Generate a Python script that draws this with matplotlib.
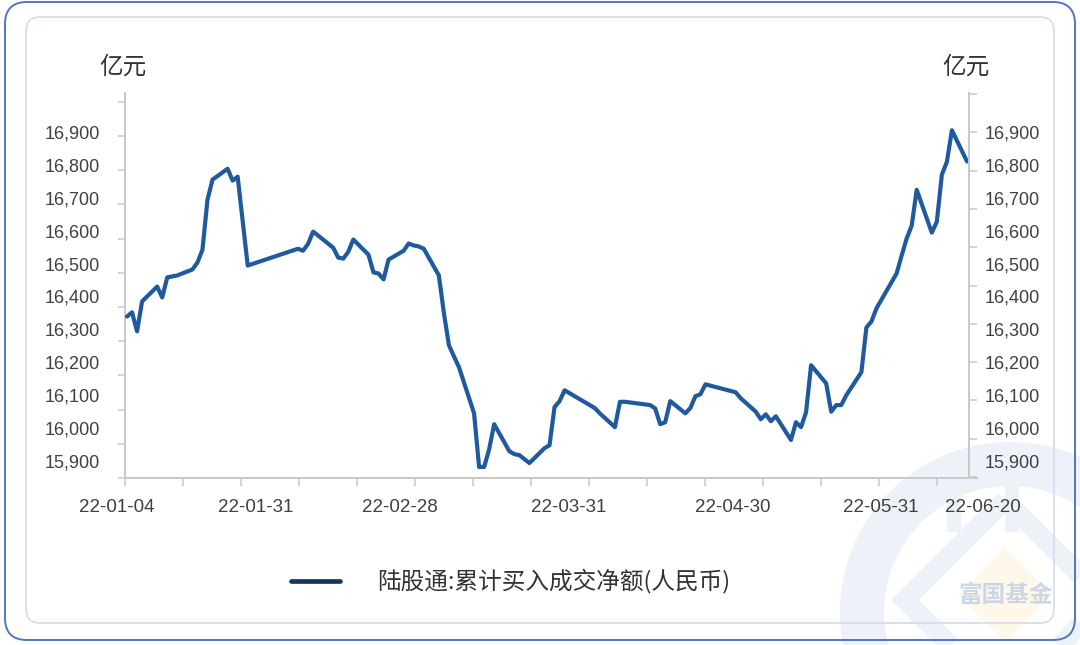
import matplotlib
matplotlib.use('Agg')
import matplotlib.pyplot as plt
import matplotlib.dates as mdates
import matplotlib.transforms as mtrans
from matplotlib.patches import FancyBboxPatch, Wedge, Polygon, Rectangle
import numpy as np
import pandas as pd

# ---------------- data ----------------
dates = [
    '2022-01-04', '2022-01-05', '2022-01-06', '2022-01-07', '2022-01-10', '2022-01-11',
    '2022-01-12', '2022-01-13', '2022-01-14', '2022-01-17', '2022-01-18', '2022-01-19',
    '2022-01-20', '2022-01-21', '2022-01-24', '2022-01-25', '2022-01-26', '2022-01-28',
    '2022-02-07', '2022-02-08', '2022-02-09', '2022-02-10', '2022-02-11', '2022-02-14',
    '2022-02-15', '2022-02-16', '2022-02-17', '2022-02-18', '2022-02-21', '2022-02-22',
    '2022-02-23', '2022-02-24', '2022-02-25', '2022-02-28',
    '2022-03-01', '2022-03-02', '2022-03-03', '2022-03-04', '2022-03-07', '2022-03-08',
    '2022-03-09', '2022-03-10', '2022-03-11', '2022-03-14', '2022-03-15', '2022-03-16',
    '2022-03-17', '2022-03-18', '2022-03-21', '2022-03-22', '2022-03-23', '2022-03-24',
    '2022-03-25', '2022-03-28', '2022-03-29', '2022-03-30', '2022-03-31',
    '2022-04-01', '2022-04-06', '2022-04-07', '2022-04-08', '2022-04-11', '2022-04-12',
    '2022-04-13', '2022-04-14', '2022-04-15', '2022-04-18', '2022-04-19', '2022-04-20',
    '2022-04-21', '2022-04-22', '2022-04-25', '2022-04-26', '2022-04-27', '2022-04-28',
    '2022-04-29',
    '2022-05-05', '2022-05-06', '2022-05-09', '2022-05-10', '2022-05-11', '2022-05-12',
    '2022-05-13', '2022-05-16', '2022-05-17', '2022-05-18', '2022-05-19', '2022-05-20',
    '2022-05-23', '2022-05-24', '2022-05-25', '2022-05-26', '2022-05-27', '2022-05-30',
    '2022-05-31',
    '2022-06-01', '2022-06-02', '2022-06-06', '2022-06-07', '2022-06-08', '2022-06-09',
    '2022-06-10', '2022-06-13', '2022-06-14', '2022-06-15', '2022-06-16', '2022-06-17',
    '2022-06-20',
]
values = [
    16339, 16352, 16294, 16385, 16430, 16397,
    16458, 16461, 16464, 16482, 16503, 16542,
    16694, 16755, 16788, 16752, 16764, 16494,
    16545, 16539, 16560, 16597, 16585, 16548,
    16518, 16515, 16536, 16573, 16527, 16473,
    16470, 16452, 16512, 16539,
    16561, 16555, 16552, 16545, 16464, 16350,
    16252, 16218, 16185, 16045, 15882, 15882,
    15936, 16012, 15930, 15921, 15918, 15906,
    15894, 15939, 15948, 16064, 16082,
    16115, 16070, 16061, 16045, 16003, 16080,
    16080, 16078, 16076, 16070, 16060, 16012,
    16018, 16082, 16045, 16061, 16097, 16103,
    16133,
    16109, 16091, 16050, 16027, 16042, 16021,
    16036, 15964, 16018, 16003, 16048, 16191,
    16136, 16050, 16070, 16070, 16100, 16170,
    16306,
    16324, 16364, 16470, 16524, 16576, 16615,
    16724, 16594, 16627, 16770, 16809, 16905,
    16810,
]
y_tick_values = [15900, 16000, 16100, 16200, 16300, 16400, 16500, 16600, 16700, 16800, 16900]
x_label_dates = ['2022-01-04', '2022-01-31', '2022-02-28', '2022-03-31',
                 '2022-04-30', '2022-05-31', '2022-06-20']
x_label_texts = ['22-01-04', '22-01-31', '22-02-28', '22-03-31',
                 '22-04-30', '22-05-31', '22-06-20']
unit_label = '亿元'
series_name = '陆股通:累计买入成交净额(人民币)'
watermark_text = '富国基金'

# ---------------- style / layout ----------------
plt.rcParams['font.family'] = ['Liberation Sans', 'Noto Sans CJK SC', 'DejaVu Sans']
CJK = ['Noto Sans CJK SC', 'DejaVu Sans']
LINE_COLOR = '#1f5a9e'
LEGEND_COLOR = '#17365d'
AXIS_COLOR = '#c8c8c8'
TEXT_COLOR = '#404040'
WM_BLUE = '#edf1f8'

W, H = 1080, 645
fig = plt.figure(figsize=(W / 100, H / 100), dpi=100)

# background layer in pixel coordinates (y downwards)
bg = fig.add_axes([0, 0, 1, 1], zorder=0)
bg.set_xlim(0, W)
bg.set_ylim(H, 0)
bg.axis('off')

# watermark logo (faint)
bg.add_patch(Wedge((1010, 612), 170, 0, 360, width=44, facecolor=WM_BLUE, edgecolor='none'))
bg.add_patch(Polygon([(1005, 500), (1105, 600), (1005, 700), (905, 600)], closed=True,
                     facecolor='none', edgecolor=WM_BLUE, linewidth=14))
bg.add_patch(Polygon([(1005, 548), (1052, 595), (1005, 642), (958, 595)], closed=True,
                     facecolor='#fdf8ea', edgecolor='none'))
bg.add_patch(Rectangle((947, 462), 14, 70, facecolor=WM_BLUE, edgecolor='none'))
bg.add_patch(Rectangle((1005, 462), 14, 70, facecolor=WM_BLUE, edgecolor='none'))
bg.text(1006, 595, watermark_text, ha='center', va='center', fontsize=17, fontweight='bold',
        color='#cdd6e7', family=CJK)

# frames
bg.add_patch(FancyBboxPatch((5, 2), 1070, 638, boxstyle='round,pad=0,rounding_size=22',
                            facecolor='none', edgecolor='#4f77bd', linewidth=1.4))
bg.add_patch(FancyBboxPatch((26, 17), 1028, 606, boxstyle='round,pad=0,rounding_size=14',
                            facecolor='none', edgecolor='#d3dbea', linewidth=1.2))

# unit labels
bg.text(123, 67, unit_label, ha='center', va='center', fontsize=17, color='#333333', family=CJK)
bg.text(966, 67, unit_label, ha='center', va='center', fontsize=17, color='#333333', family=CJK)

# legend
bg.plot([291, 340], [581, 581], color=LEGEND_COLOR, lw=3.4, solid_capstyle='round')
bg.text(377, 581, series_name, ha='left', va='center', fontsize=17, color='#333333', family=CJK)

# ---------------- main axes ----------------
AX_L, AX_R, AX_T, AX_B = 125, 977, 93, 478
ax = fig.add_axes([AX_L / W, (H - AX_B) / H, (AX_R - AX_L) / W, (AX_B - AX_T) / H], zorder=2)
ax.set_facecolor('none')

x = mdates.date2num(pd.to_datetime(dates))
x0 = mdates.date2num(pd.Timestamp(dates[0]))
PX_PER_DAY = 5.03
X0_PX = 127
ax.set_xlim(x0 + (AX_L - X0_PX) / PX_PER_DAY, x0 + (AX_R - X0_PX) / PX_PER_DAY)

def px_to_val(py):
    return 16900 - (py - 132) / 0.33

ax.set_ylim(px_to_val(AX_B), px_to_val(AX_T))

ax.plot(x, values, color=LINE_COLOR, lw=3.0, solid_joinstyle='round', solid_capstyle='round',
        zorder=3)

for s in ['top', 'right']:
    ax.spines[s].set_visible(False)
for s in ['left', 'bottom']:
    ax.spines[s].set_color(AXIS_COLOR)
    ax.spines[s].set_linewidth(1.4)

# y axis: labels (no tick marks) + separate tick marks
ax.set_yticks(y_tick_values)
ax.set_yticklabels([f'{v:,}' for v in y_tick_values])
left_tick_px = 479 - 34.3 * np.arange(12)
ax.set_yticks([px_to_val(p) for p in left_tick_px], minor=True)
ax.tick_params(axis='y', which='major', length=0, pad=18, labelsize=13, labelcolor=TEXT_COLOR)
ax.tick_params(axis='y', which='minor', length=5, width=1.1, color=AXIS_COLOR)

# x axis tick marks
xtick_px = 125 + 58 * np.arange(15)
ax.set_xticks([x0 + (p - X0_PX) / PX_PER_DAY for p in xtick_px])
ax.set_xticklabels([])
ax.tick_params(axis='x', which='major', length=6, width=1.1, color=AXIS_COLOR, direction='out')

# x labels
label_shift_px = [-10, -7, -4, 9, 22, 14, 16]
blend = mtrans.blended_transform_factory(ax.transData, ax.transAxes)
for d, t, sh in zip(x_label_dates, x_label_texts, label_shift_px):
    tr = blend + mtrans.ScaledTranslation(sh / 100, 0, fig.dpi_scale_trans)
    ax.text(mdates.date2num(pd.Timestamp(d)), (AX_B - 508) / (AX_B - AX_T), t, transform=tr,
            ha='center', va='center', fontsize=13.5, color=TEXT_COLOR, clip_on=False)

# right axis
ax2 = ax.twinx()
ax2.set_facecolor('none')
ax2.set_ylim(ax.get_ylim())
for s in ['top', 'left', 'bottom']:
    ax2.spines[s].set_visible(False)
ax2.spines['right'].set_position(('axes', (969 - AX_L) / (AX_R - AX_L)))
ax2.spines['right'].set_color(AXIS_COLOR)
ax2.spines['right'].set_linewidth(1.4)
ax2.set_yticks(y_tick_values)
ax2.set_yticklabels([f'{v:,}' for v in y_tick_values])
right_tick_px = 478 - 38.4 * np.arange(11)
ax2.set_yticks([px_to_val(p) for p in right_tick_px], minor=True)
ax2.tick_params(axis='y', which='major', length=0, pad=11, labelsize=13, labelcolor=TEXT_COLOR)
ax2.tick_params(axis='y', which='minor', length=6, width=1.1, color=AXIS_COLOR)

fig.savefig('out.png', dpi=100)
